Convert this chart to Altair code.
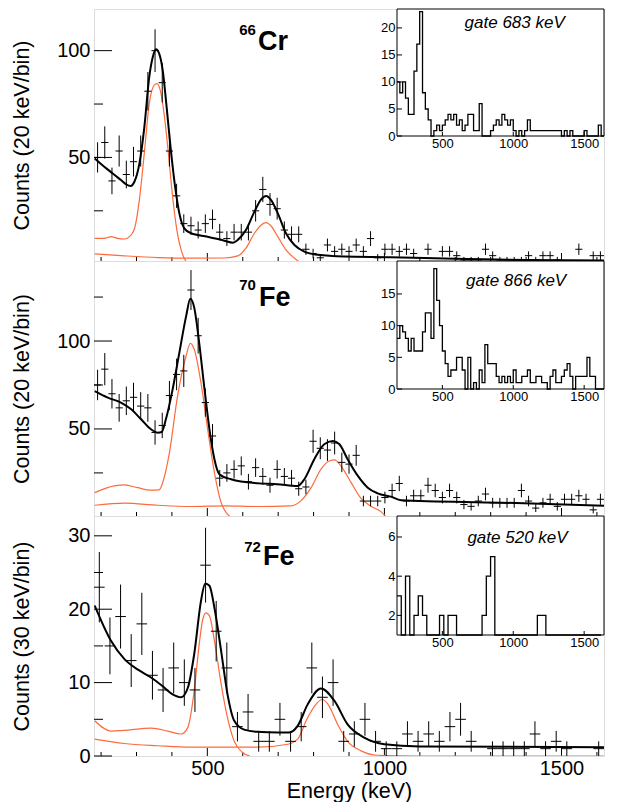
import altair as alt
import pandas as pd

FONT = "Liberation Sans"
RED = "#ff6a3d"

E_MIN, E_MAX = 180, 1620          # main energy axis (keV)
INSET_E_MIN, INSET_E_MAX = 180, 1640

# ---------------- main spectra (counts per bin) ----------------
CR66_COUNTS = [50, 57, 39, 53, 42, 48, 53, 81, 100, 85,
               53, 32, 19, 18, 16, 19, 21, 15, 12, 15,
               15, 15, 25, 35, 28, 26, 16, 14, 14, 7,
               5, 3, 9, 6, 7, 6, 9, 6, 12, 3,
               7, 7, 6, 7, 5, 0, 7, 0, 6, 6,
               4, 2, 2, 2, 7, 4, 2, 2, 2, 2,
               4, 2, 4, 4, 2, 0, 0, 7, 1, 4,
               4]
FE70_COUNTS = [75, 84, 70, 62, 66, 68, 63, 62, 48, 52,
               69, 81, 83, 129, 103, 65, 46, 22, 25, 27,
               29, 20, 28, 23, 18, 27, 23, 22, 16, 17,
               43, 39, 38, 42, 31, 30, 35, 9, 9, 9,
               11, 15, 19, 9, 12, 12, 18, 15, 11, 15,
               11, 7, 6, 9, 13, 8, 8, 8, 8, 15,
               9, 5, 8, 10, 6, 10, 10, 12, 10, 4,
               10]
FE72_COUNTS = [23, 15, 19, 13, 18, 11, 9, 12, 10, 9,
               26, 17, 12, 4, 6, 2, 2, 5, 2, 4,
               12, 8, 10, 2, 3, 5, 2, 1, 1, 3,
               2, 3, 2, 4, 5, 2, 0, 1, 1, 1,
               1, 3, 1, 2, 1, 0, 0, 1]

# ---------------- fit curves (energy, counts) ----------------
CR66_FIT_E = [182, 209, 233, 256, 270, 283, 294, 308, 322, 336, 346, 355, 364, 374, 386,
              397, 409, 421, 435, 454, 501, 548, 572, 586, 609, 633, 652, 666, 680, 699,
              722, 746, 774, 812, 887, 1018, 1200, 1400, 1620]
CR66_FIT_Y = [49.5, 45.6, 42.5, 39.4, 37.5, 36.6, 38.6, 47, 64, 87.7, 97, 100.6, 98.6, 90.8, 72,
              53.4, 36.3, 23.8, 16.8, 14.5, 12.9, 11, 10.1, 11.4, 16, 24.6, 30.4, 31.9, 30, 23.8,
              14.5, 9, 5.9, 4.4, 3.6, 3.3, 2.5, 2.0, 1.7]
CR66_C1_E = [182, 209, 228, 247, 266, 280, 294, 308, 322, 336, 350, 358, 367, 379, 390,
             402, 414, 426, 440, 448]
CR66_C1_Y = [12.1, 12.1, 12.9, 12.1, 11.8, 12.9, 16.5, 30, 51.9, 75.2, 83.8, 84.6, 81.5, 69, 51.9,
             31.6, 16, 6.7, 1.3, 0]
CR66_C2_E = [182, 266, 360, 454, 548, 586, 609, 633, 652, 666, 680, 699, 722, 746, 765]
CR66_C2_Y = [4.8, 3.9, 3.1, 2.8, 2.9, 3.9, 7.5, 14.5, 18.4, 19.5, 17.9, 12.9, 6.7, 2.8, 0.5]

FE70_FIT_E = [182, 219, 256, 285, 313, 341, 360, 371, 383, 402, 421, 440, 452, 463, 477,
              491, 506, 520, 534, 567, 642, 697, 755, 774, 802, 830, 854, 873, 896, 925,
              953, 981, 1018, 1047, 1329, 1620]
FE70_FIT_Y = [71.5, 67.8, 65, 61.2, 55.5, 49.8, 47.9, 48.3, 55.5, 72.5, 93.4, 114, 124, 119, 99,
              74.4, 49.8, 32.8, 24.3, 21.4, 19.1, 18.6, 17.6, 21.4, 32.8, 41.3, 43.2, 41.3, 32.8, 23.3,
              16.6, 13.4, 11.5, 9.5, 8.1, 6.3]
FE70_C1_E = [182, 237, 266, 303, 341, 364, 374, 393, 416, 440, 452, 463, 482, 501, 520, 539, 557, 565]
FE70_C1_Y = [13.8, 17.6, 18.2, 16.6, 15.2, 15.4, 19.5, 36.5, 68.8, 91.5, 98.7, 95.3, 76.3, 49.8,
             25.2, 8.1, 1.5, 0]
FE70_C2_E = [182, 266, 360, 454, 548, 642, 736, 764, 793, 821, 844, 859, 877, 906, 934, 962, 990, 1005]
FE70_C2_Y = [6.6, 7.8, 6.6, 5.9, 6.3, 5.9, 6.3, 9.1, 16.6, 27.1, 31.8, 32.4, 29, 19.5, 10.5, 6, 3, 0]

FE72_FIT_E = [182, 228, 266, 303, 341, 374, 402, 426, 445, 463, 482, 494, 506, 520, 539,
              557, 576, 604, 642, 699, 731, 755, 783, 821, 859, 896, 943, 1000, 1100, 1620]
FE72_FIT_Y = [20.5, 15.7, 13.2, 11.8, 10.7, 9.5, 8.4, 8, 9.3, 13.9, 21.1, 23.5, 23.2, 20.2, 14.3,
              8.4, 4.8, 3.6, 3.3, 3.2, 3.2, 4.1, 7, 9.2, 7.5, 4.3, 2.5, 1.6, 1.3, 1.2]
FE72_C1_E = [182, 228, 265, 341, 388, 426, 445, 463, 477, 487, 496, 506, 520, 539, 557, 576, 600, 620]
FE72_C1_Y = [4.8, 3.4, 3.5, 3.8, 3.4, 3.0, 3.9, 8.9, 15.2, 18.6, 19.5, 19.1, 15.7, 9.8, 5.2,
             2.0, 0.45, 0]
FE72_C2_E = [182, 266, 360, 454, 548, 642, 727, 755, 783, 806, 824, 840, 868, 896, 934, 980, 1100, 1620]
FE72_C2_Y = [2.3, 1.7, 1.4, 1.2, 1.2, 1.2, 1.6, 2.3, 5.2, 7.0, 7.7, 7.1, 4.3, 2.0, 0.7, 0.1, 0, 0]

# ---------------- gated spectra (insets) ----------------
CR66_GATE = [10, 8, 10, 7, 4, 4, 12, 17, 23, 8,
             5, 3, 0, 1, 2, 1, 2, 3, 4, 3,
             4, 2, 3, 1, 2, 4, 4, 1, 1, 6,
             0, 0, 0, 1, 2, 3, 2, 4, 3, 2,
             3, 1, 0, 1, 0, 1, 3, 1, 1, 1,
             1, 1, 1, 1, 1, 1, 1, 1, 0, 1,
             0, 1, 0, 0, 0, 0, 1, 0, 0, 0,
             0, 2, 0]
FE70_GATE = [8, 10, 9, 8, 6, 8, 6, 6, 6, 9,
             12, 12, 8, 19, 14, 10, 6, 4, 2, 3,
             3, 5, 5, 3, 0, 5, 0, 1, 0, 3,
             1, 7, 4, 4, 4, 2, 1, 2, 1, 2,
             1, 3, 1, 1, 2, 2, 3, 1, 1, 2,
             2, 1, 1, 0, 2, 3, 1, 1, 2, 3,
             4, 2, 0, 2, 2, 2, 2, 5, 2, 2,
             0, 0, 0]
FE72_GATE = [3, 0, 4, 0, 2, 3, 2, 0, 0, 0,
             2, 0, 2, 2, 0, 0, 0, 0, 0, 0,
             2, 4, 5, 0, 0, 0, 0, 0, 0, 0,
             0, 0, 0, 2, 2, 0, 0, 0, 0, 0,
             0, 0, 0, 0, 0, 0, 0, 0]

X_TICKS_MAJOR = [500, 1000, 1500]
X_TICKS_MINOR = [200, 300, 400, 600, 700, 800, 900, 1100, 1200, 1300, 1400, 1600]
INSET_X_LABELS = [500, 1000, 1500]

PLOT_W = 510
INSET_X0 = 303   # left edge of the insets inside the panel (px)


def bin_centers(n, lo, hi):
    w = (hi - lo) / n
    return [lo + w * (i + 0.5) for i in range(n)], w


def bin_edges(n, lo, width):
    return [lo + width * i for i in range(n + 1)]


PANELS = [
    dict(H=252, ydom=[1.5, 119.5], ylab=[50, 100], yminor=[25, 75],
         ytitle="Counts (20 keV/bin)", counts=CR66_COUNTS, bins=(E_MIN, E_MAX),
         fit=(CR66_FIT_E, CR66_FIT_Y), c1=(CR66_C1_E, CR66_C1_Y), c2=(CR66_C2_E, CR66_C2_Y),
         sup="66", elem="Cr", lab_pos=(637, 643, 107.5, 100.5), xaxis=False,
         gate=CR66_GATE, gate_w=20, iB=127, iydom=[0, 23.5], iylab=[0, 5, 10, 15, 20],
         gtext="gate 683 keV", gpos=(1010, 20.0), clamp=0),
    dict(H=255, ydom=[0.5, 145.5], ylab=[50, 100], yminor=[25, 75, 125],
         ytitle="Counts (20 keV/bin)", counts=FE70_COUNTS, bins=(E_MIN, E_MAX),
         fit=(FE70_FIT_E, FE70_FIT_Y), c1=(FE70_C1_E, FE70_C1_Y), c2=(FE70_C2_E, FE70_C2_Y),
         sup="70", elem="Fe", lab_pos=(637, 646, 129, 120), xaxis=False,
         gate=FE70_GATE, gate_w=20, iB=128, iydom=[0, 20.2], iylab=[0, 5, 10, 15],
         gtext="gate 866 keV", gpos=(1020, 16.3), clamp=0),
    dict(H=240, ydom=[0, 32.7], ylab=[0, 10, 20, 30], yminor=[5, 15, 25],
         ytitle="Counts (30 keV/bin)", counts=FE72_COUNTS, bins=(E_MIN, E_MAX),
         fit=(FE72_FIT_E, FE72_FIT_Y), c1=(FE72_C1_E, FE72_C1_Y), c2=(FE72_C2_E, FE72_C2_Y),
         sup="72", elem="Fe", lab_pos=(651, 657, 27.8, 26.0), xaxis=True,
         gate=FE72_GATE, gate_w=30, iB=119, iydom=[1, 7.07], iylab=[2, 4, 6],
         gtext="gate 520 keV", gpos=(1030, 5.7), clamp=1),
]


def make_panel(p):
    H = p["H"]
    xs = alt.Scale(domain=[E_MIN, E_MAX], nice=False, zero=False)
    ys = alt.Scale(domain=p["ydom"], nice=False, zero=False)
    if p["xaxis"]:
        xaxis = alt.Axis(values=X_TICKS_MAJOR, title="Energy (keV)", format="d", labelFontSize=20,
                         titleFontSize=21.5, titleFontWeight="normal", ticks=False, tickSize=0,
                         domain=False, grid=False, labelPadding=2, titlePadding=2, labelFlush=False,
                         labelFont=FONT, titleFont=FONT)
    else:
        xaxis = None
    yaxis = alt.Axis(values=p["ylab"], title=p["ytitle"], format="d", labelFontSize=20,
                     titleFontSize=21.5, titleFontWeight="normal", labelFont=FONT, titleFont=FONT,
                     ticks=False, tickSize=0, domain=False, grid=False, labelPadding=4,
                     titleX=-72, titleY=H / 2, titleAngle=270, titleAlign="center",
                     titleBaseline="middle")

    def X(f):
        return alt.X(f, type="quantitative", scale=xs, axis=xaxis)

    def Y(f):
        return alt.Y(f, type="quantitative", scale=ys, axis=yaxis)

    layers = []
    # inner ticks
    tx_major = pd.DataFrame({"v": X_TICKS_MAJOR})
    tx_minor = pd.DataFrame({"v": X_TICKS_MINOR})
    layers.append(alt.Chart(tx_major).mark_rule(color="black", strokeWidth=1).encode(
        x=X("v"), y=alt.value(H), y2=alt.value(H - 8)))
    layers.append(alt.Chart(tx_minor).mark_rule(color="black", strokeWidth=1).encode(
        x=X("v"), y=alt.value(H), y2=alt.value(H - 4)))
    ty_major = pd.DataFrame({"v": p["ylab"]})
    ty_minor = pd.DataFrame({"v": p["yminor"]})
    layers.append(alt.Chart(ty_major).mark_rule(color="black", strokeWidth=1).encode(
        y=Y("v"), x=alt.value(0), x2=alt.value(18)))
    layers.append(alt.Chart(ty_minor).mark_rule(color="black", strokeWidth=1).encode(
        y=Y("v"), x=alt.value(0), x2=alt.value(9)))

    # component curves and total fit
    for (ex, ey), col, sw in [(p["c1"], RED, 1.2), (p["c2"], RED, 1.2), (p["fit"], "black", 2.0)]:
        df = pd.DataFrame({"E": ex, "C": ey})
        layers.append(alt.Chart(df).mark_line(color=col, strokeWidth=sw, interpolate="monotone",
                                              clip=True).encode(x=X("E"), y=Y("C")))

    # data points with error bars
    centers, w = bin_centers(len(p["counts"]), *p["bins"])
    dpts = pd.DataFrame({"E": centers, "N": p["counts"]})
    base = alt.Chart(dpts).transform_filter("datum.N > 0").transform_calculate(
        lo="datum.N - sqrt(datum.N)", hi="datum.N + sqrt(datum.N)",
        xl="datum.E - %f" % (w / 2), xr="datum.E + %f" % (w / 2))
    layers.append(base.mark_rule(color="black", strokeWidth=1, clip=True).encode(
        x=X("E"), y=Y("lo"), y2="hi:Q"))
    layers.append(base.mark_rule(color="black", strokeWidth=1, clip=True).encode(
        x=X("xl"), x2="xr:Q", y=Y("N")))

    # nuclide label
    xsup, xel, ysup, yel = p["lab_pos"]
    layers.append(alt.Chart(pd.DataFrame({"x": [xsup], "y": [ysup], "t": [p["sup"]]})).mark_text(
        align="right", baseline="alphabetic", fontSize=15, fontWeight="bold", color="black").encode(
        x=X("x"), y=Y("y"), text="t:N"))
    layers.append(alt.Chart(pd.DataFrame({"x": [xel], "y": [yel], "t": [p["elem"]]})).mark_text(
        align="left", baseline="alphabetic", fontSize=27, fontWeight="bold", color="black").encode(
        x=X("x"), y=Y("y"), text="t:N"))

    main = alt.layer(*layers)

    # ---------------- inset ----------------
    iB = p["iB"]
    xi = alt.Scale(domain=[INSET_E_MIN, INSET_E_MAX], range=[INSET_X0, PLOT_W], nice=False, zero=False)
    yi = alt.Scale(domain=p["iydom"], range=[iB, 0], nice=False, zero=False)
    xiaxis = alt.Axis(orient="bottom", offset=iB - H, values=INSET_X_LABELS, format="d",
                      labelFontSize=13, labelFont=FONT, labelPadding=1, ticks=False, tickSize=0,
                      domain=False, grid=False, title=None, labelFlush=False)
    yiaxis = alt.Axis(orient="left", offset=-INSET_X0, values=p["iylab"], format="d",
                      labelFontSize=13, labelFont=FONT, labelPadding=2, ticks=False, tickSize=0,
                      domain=False, grid=False, title=None)

    def XI(f):
        return alt.X(f, type="quantitative", scale=xi, axis=xiaxis)

    def YI(f):
        return alt.Y(f, type="quantitative", scale=yi, axis=yiaxis)

    ilayers = []
    frame = pd.DataFrame({"x0": [INSET_E_MIN], "x1": [INSET_E_MAX],
                          "y0": [p["iydom"][0]], "y1": [p["iydom"][1]]})
    ilayers.append(alt.Chart(frame).mark_rect(fill="white", stroke="black", strokeWidth=1).encode(
        x=XI("x0"), x2="x1:Q", y=YI("y0"), y2="y1:Q"))
    itx = pd.DataFrame({"v": INSET_X_LABELS})
    ilayers.append(alt.Chart(itx).mark_rule(color="black", strokeWidth=1).encode(
        x=XI("v"), y=alt.value(iB), y2=alt.value(iB - 4)))
    ity = pd.DataFrame({"v": p["iylab"]})
    ilayers.append(alt.Chart(ity).mark_rule(color="black", strokeWidth=1).encode(
        y=YI("v"), x=alt.value(INSET_X0), x2=alt.value(INSET_X0 + 5)))
    edges = bin_edges(len(p["gate"]), INSET_E_MIN, p["gate_w"])
    hist = pd.DataFrame({"E": edges, "N": p["gate"] + [p["gate"][-1]]})
    ilayers.append(alt.Chart(hist).transform_calculate(
        Nc="max(datum.N, %f)" % p["clamp"]).mark_line(
        color="black", strokeWidth=1.3, interpolate="step-after", clip=True).encode(
        x=XI("E"), y=YI("Nc")))
    gx, gy = p["gpos"]
    ilayers.append(alt.Chart(pd.DataFrame({"x": [gx], "y": [gy], "t": [p["gtext"]]})).mark_text(
        align="center", baseline="alphabetic", fontSize=17, fontStyle="italic", color="black").encode(
        x=XI("x"), y=YI("y"), text="t:N"))
    inset = alt.layer(*ilayers)

    return alt.layer(main, inset).resolve_scale(x="independent", y="independent").properties(
        width=PLOT_W, height=H)


chart = alt.vconcat(*[make_panel(p) for p in PANELS], spacing=0, bounds="flush").properties(
    padding={"left": 2, "top": 0, "right": 5, "bottom": 0}
).configure_view(stroke="black", strokeWidth=1).configure_axis(
    labelColor="black", titleColor="black", labelFont=FONT, titleFont=FONT,
    titleFontWeight="normal").configure_text(font=FONT).configure(font=FONT)

chart.save("out.html", embed_options={"renderer": "svg", "actions": False})
